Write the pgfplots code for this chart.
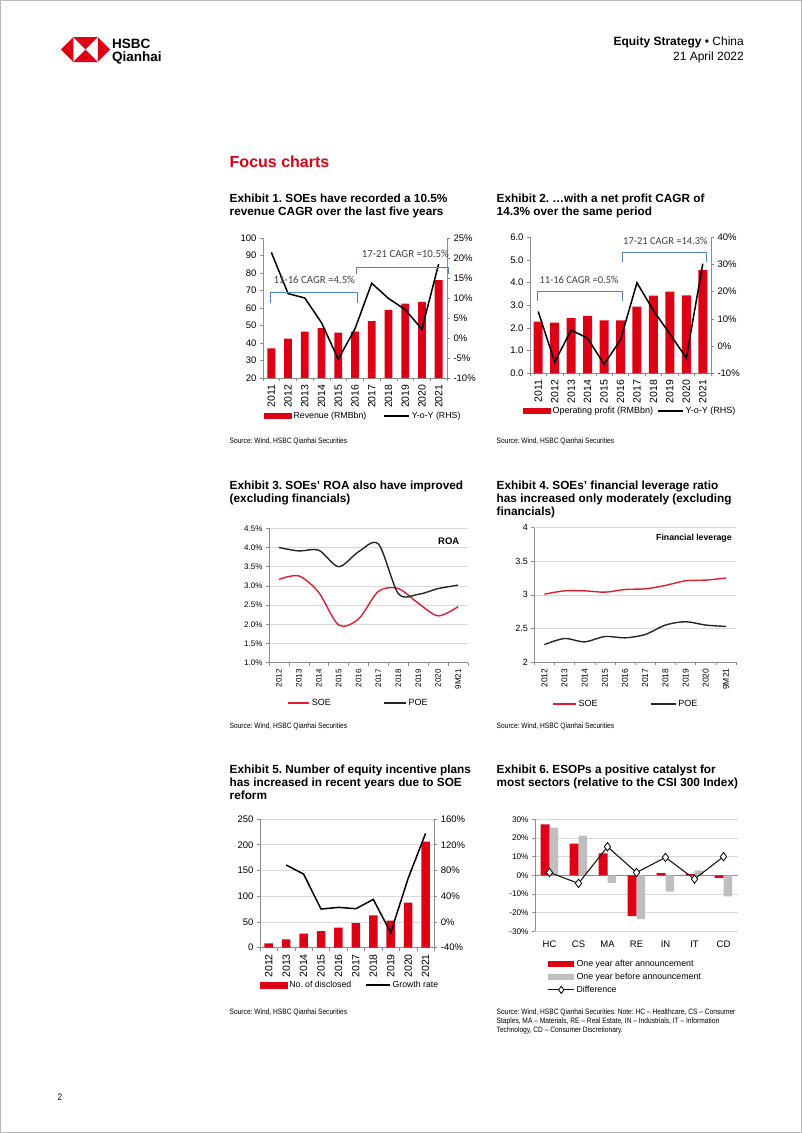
\documentclass[border=0pt]{standalone}
\usepackage{fontspec}
\usepackage{pgfplots}
\pgfplotsset{compat=1.18}
\setmainfont{Liberation Sans}
\newfontfamily\narrowfont[FakeStretch=0.85]{Liberation Sans}
\newfontfamily\calfont{Carlito}
\frenchspacing
\definecolor{barred}{RGB}{222,0,20}
\definecolor{linered}{RGB}{226,30,48}
\definecolor{lgray}{RGB}{191,191,191}
\definecolor{gridc}{RGB}{217,217,217}
\definecolor{axc}{RGB}{140,140,140}
\definecolor{brblue}{RGB}{84,130,190}
\definecolor{txt}{RGB}{64,64,64}
\newcommand{\fs}[2]{\fontsize{#1}{#2}\selectfont}
\pgfkeys{/pgf/number format/assume math mode=true}
\pgfplotsset{
  hbase/.style={scale only axis, anchor=south west,
    axis line style={axc, line width=0.6pt, -},
    tick style={axc, line width=0.6pt},
    tick align=outside, major tick length=3pt, minor tick length=3pt,
    grid style={gridc, line width=0.6pt},
    legend cell align=left},
}
\begin{document}
\begin{tikzpicture}
\path[use as bounding box] (0,0) rectangle (802pt,-1133pt);
\fill[white] (0,0) rectangle (802pt,-1133pt);
\draw[gray!55, line width=0.8pt] (0.4pt,-0.4pt) rectangle (801.6pt,-1132.6pt);

% ================= Chart 1 =================
\begin{axis}[hbase, at={(263pt,-378pt)}, width=184pt, height=140pt,
  xmin=-0.5, xmax=10.5, ymin=20, ymax=100, ytick={20,30,...,100},
  xtick={0,...,10}, xticklabels={2011,2012,2013,2014,2015,2016,2017,2018,2019,2020,2021},
  major x tick style={draw=none}, minor xtick={-0.5,0.5,...,10.5},
  axis x line*=bottom, axis y line*=left,
  xticklabel style={rotate=90, anchor=east, font=\fs{10.5}{12}},
  yticklabel style={font=\fs{9.5}{11}}]
\addplot[ybar, bar width=7.8pt, fill=barred, draw=none] coordinates {
 (0,37) (1,42.5) (2,46.5) (3,48.5) (4,46) (5,46.5) (6,52.5) (7,59) (8,62.5) (9,63.5) (10,76)};
\end{axis}
\begin{axis}[hbase, at={(263pt,-378pt)}, width=184pt, height=140pt,
  xmin=-0.5, xmax=10.5, ymin=-10, ymax=25, ytick={-10,-5,...,25},
  yticklabel={\pgfmathprintnumber{\tick}\%},
  axis y line*=right, axis x line=none, xtick=\empty,
  yticklabel style={font=\fs{9.5}{11}},
  legend style={at={(0.005,-0.271)}, anchor=west, draw=none, fill=none, inner sep=0pt,
    font=\fs{8.8}{10}, legend columns=2, /tikz/every even column/.append style={column sep=15pt}}]
\addlegendimage{legend image code/.code={\fill[barred] (0pt,-2.6pt) rectangle (27pt,2.6pt);}}
\addlegendentry{Revenue (RMBbn)}
\addplot[black, line width=1.5pt, legend image code/.code={\draw[black,line width=1.5pt] (0pt,0pt) -- (25pt,0pt);}] coordinates {
 (0,21.4) (1,11.1) (2,10.0) (3,3.8) (4,-5.3) (5,2.3) (6,13.7) (7,9.9) (8,7.1) (9,2.2) (10,18.5)};
\addlegendentry{Y-o-Y (RHS)}
\end{axis}

% ================= Chart 2 =================
\begin{axis}[hbase, at={(530pt,-373.3pt)}, width=181pt, height=136pt,
  xmin=-0.5, xmax=10.5, ymin=0, ymax=6, ytick={0,1,...,6},
  yticklabel={\pgfmathprintnumber[fixed,fixed zerofill,precision=1]{\tick}},
  xtick={0,...,10}, xticklabels={2011,2012,2013,2014,2015,2016,2017,2018,2019,2020,2021},
  major x tick style={draw=none}, minor xtick={-0.5,0.5,...,10.5},
  axis x line*=bottom, axis y line*=left,
  xticklabel style={rotate=90, anchor=east, font=\fs{10.5}{12}},
  yticklabel style={font=\fs{9.5}{11}}]
\addplot[ybar, bar width=9pt, fill=barred, draw=none] coordinates {
 (0,2.28) (1,2.24) (2,2.43) (3,2.53) (4,2.34) (5,2.34) (6,2.94) (7,3.43) (8,3.60) (9,3.44) (10,4.56)};
\end{axis}
\begin{axis}[hbase, at={(530pt,-373.3pt)}, width=181pt, height=136pt,
  xmin=-0.5, xmax=10.5, ymin=-10, ymax=40, ytick={-10,0,...,40},
  yticklabel={\pgfmathprintnumber{\tick}\%},
  axis y line*=right, axis x line=none, xtick=\empty,
  yticklabel style={font=\fs{9.5}{11}},
  legend style={at={(-0.039,-0.277)}, anchor=west, draw=none, fill=none, inner sep=0pt,
    font=\fs{9}{10}, legend columns=2, /tikz/every even column/.append style={column sep=2pt}}]
\addlegendimage{legend image code/.code={\fill[barred] (0pt,-2.6pt) rectangle (27pt,2.6pt);}}
\addlegendentry{Operating profit (RMBbn)}
\addplot[black, line width=1.5pt, legend image code/.code={\draw[black,line width=1.5pt] (0pt,0pt) -- (25pt,0pt);}] coordinates {
 (0,12.7) (1,-5.9) (2,5.9) (3,2.9) (4,-6.7) (5,2.3) (6,23.3) (7,13.1) (8,4.5) (9,-4.4) (10,30.3)};
\addlegendentry{Y-o-Y (RHS)}
\end{axis}

% ================= Chart 3 =================
\begin{axis}[hbase, at={(269pt,-662.7pt)}, width=199pt, height=134.4pt,
  xmin=-0.5, xmax=9.5, ymin=1, ymax=4.5, ytick={1,1.5,2,2.5,3,3.5,4,4.5},
  yticklabel={\pgfmathprintnumber[fixed,fixed zerofill,precision=1]{\tick}\%},
  ymajorgrids,
  xtick={0,...,9}, xticklabels={2012,2013,2014,2015,2016,2017,2018,2019,2020,9M21},
  major x tick style={draw=none}, minor xtick={-0.5,0.5,...,9.5},
  axis x line*=bottom, axis y line*=left,
  xticklabel style={rotate=90, anchor=east, font=\fs{8}{9}},
  yticklabel style={font=\fs{8}{9}},
  legend style={at={(0.09,-0.302)}, anchor=west, draw=none, fill=none, inner sep=0pt,
    font=\fs{9}{10}, legend columns=2, /tikz/every even column/.append style={column sep=50pt}}]
\addlegendimage{legend image code/.code={\draw[linered,line width=1.8pt] (0pt,0pt) -- (21pt,0pt);}}
\addlegendentry{SOE}
\addlegendimage{legend image code/.code={\draw[black!85,line width=1.8pt] (0pt,0pt) -- (22pt,0pt);}}
\addlegendentry{POE}
\addplot[linered, line width=1.4pt, smooth, forget plot] coordinates {
 (0,3.17) (1,3.26) (2,2.83) (3,1.98) (4,2.14) (5,2.86) (6,2.93) (7,2.55) (8,2.22) (9,2.46)};
\addplot[black!85, line width=1.4pt, smooth, forget plot] coordinates {
 (0,4.00) (1,3.91) (2,3.93) (3,3.50) (4,3.89) (5,4.09) (6,2.80) (7,2.78) (8,2.93) (9,3.02)};
\end{axis}

% ================= Chart 4 =================
\begin{axis}[hbase, at={(534.3pt,-662pt)}, width=201.7pt, height=134.3pt,
  xmin=-0.5, xmax=9.5, ymin=2, ymax=4, ytick={2,2.5,3,3.5,4},
  ymajorgrids,
  xtick={0,...,9}, xticklabels={2012,2013,2014,2015,2016,2017,2018,2019,2020,9M21},
  major x tick style={draw=none}, minor xtick={-0.5,0.5,...,9.5},
  axis x line*=bottom, axis y line*=left,
  xticklabel style={rotate=90, anchor=east, font=\fs{8.5}{9.5}},
  yticklabel style={font=\fs{9}{10}},
  legend style={at={(0.086,-0.31)}, anchor=west, draw=none, fill=none, inner sep=0pt,
    font=\fs{9}{10}, legend columns=2, /tikz/every even column/.append style={column sep=50pt}}]
\addlegendimage{legend image code/.code={\draw[linered,line width=1.8pt] (0pt,0pt) -- (23pt,0pt);}}
\addlegendentry{SOE}
\addlegendimage{legend image code/.code={\draw[black!85,line width=1.8pt] (0pt,0pt) -- (25pt,0pt);}}
\addlegendentry{POE}
\addplot[linered, line width=1.4pt, smooth, forget plot] coordinates {
 (0,3.01) (1,3.06) (2,3.06) (3,3.04) (4,3.08) (5,3.09) (6,3.14) (7,3.21) (8,3.22) (9,3.25)};
\addplot[black!85, line width=1.4pt, smooth, forget plot] coordinates {
 (0,2.26) (1,2.35) (2,2.30) (3,2.38) (4,2.36) (5,2.41) (6,2.55) (7,2.60) (8,2.55) (9,2.53)};
\end{axis}

% ================= Chart 5 =================
\begin{axis}[hbase, at={(260pt,-947.7pt)}, width=174.3pt, height=128.7pt,
  xmin=-0.5, xmax=9.5, ymin=0, ymax=250, ytick={0,50,...,250},
  ymajorgrids,
  xtick={0,...,9}, xticklabels={2012,2013,2014,2015,2016,2017,2018,2019,2020,2021},
  major x tick style={draw=none}, minor xtick={-0.5,0.5,...,9.5},
  axis x line*=bottom, axis y line*=left,
  xticklabel style={rotate=90, anchor=east, font=\fs{10.5}{12}},
  yticklabel style={font=\fs{9.5}{11}}]
\addplot[ybar, bar width=8.5pt, fill=barred, draw=none] coordinates {
 (0,8.4) (1,16.2) (2,27.2) (3,32.4) (4,38.9) (5,47.9) (6,62.8) (7,52.5) (8,87.4) (9,206)};
\end{axis}
\begin{axis}[hbase, at={(260pt,-947.7pt)}, width=174.3pt, height=128.7pt,
  xmin=-0.5, xmax=9.5, ymin=-40, ymax=160, ytick={-40,0,...,160},
  yticklabel={\pgfmathprintnumber{\tick}\%},
  axis y line*=right, axis x line=none, xtick=\empty,
  yticklabel style={font=\fs{9.5}{11}},
  legend style={at={(0,-0.29)}, anchor=west, draw=none, fill=none, inner sep=0pt,
    font=\fs{8.7}{10}, legend columns=2, /tikz/every even column/.append style={column sep=12pt}}]
\addlegendimage{legend image code/.code={\fill[barred] (0pt,-2.7pt) rectangle (26.7pt,2.7pt);}}
\addlegendentry{No.\ of disclosed}
\addplot[black, line width=1.5pt, legend image code/.code={\draw[black,line width=1.5pt] (0pt,0pt) -- (24pt,0pt);}] coordinates {
 (1,88.5) (2,74.5) (3,20.1) (4,22.7) (5,20.6) (6,35.1) (7,-16.7) (8,67.8) (9,137.7)};
\addlegendentry{Growth rate}
\end{axis}

% ================= Chart 6 =================
\begin{axis}[hbase, at={(535pt,-931.3pt)}, width=203pt, height=112pt,
  xmin=-0.5, xmax=6.5, ymin=-30, ymax=30, ytick={-30,-20,...,30},
  yticklabel={\pgfmathprintnumber{\tick}\%},
  ymajorgrids,
  extra y ticks={0}, extra y tick labels={},
  extra y tick style={grid=major, major grid style={axc, line width=0.8pt}, major tick length=0pt},
  xtick={0,...,6}, xticklabels={HC,CS,MA,RE,IN,IT,CD},
  major x tick style={draw=none},
  axis x line*=bottom, x axis line style={draw=none}, axis y line*=left,
  xticklabel style={font=\fs{9.5}{11}, yshift=-3pt},
  yticklabel style={font=\fs{8.2}{9.5}},
  legend style={at={(0.0626,-0.238)}, anchor=north west, draw=none, fill=none, inner sep=0pt,
    font=\fs{8.8}{10}, legend columns=1, row sep=1pt}]
\addplot[ybar, bar width=9pt, bar shift=-4.5pt, fill=barred, draw=none,
  legend image code/.code={\fill[barred] (0pt,-2.7pt) rectangle (25.6pt,2.7pt);}] coordinates {
 (0,27.3) (1,17.0) (2,11.7) (3,-21.9) (4,1.2) (5,0.7) (6,-1.4)};
\addlegendentry{One year after announcement}
\addplot[ybar, bar width=8.5pt, bar shift=4.25pt, fill=lgray, draw=none,
  legend image code/.code={\fill[lgray] (0pt,-2.7pt) rectangle (25.6pt,2.7pt);}] coordinates {
 (0,25.6) (1,21.2) (2,-4.0) (3,-23.5) (4,-8.8) (5,2.6) (6,-11.3)};
\addlegendentry{One year before announcement}
\addplot[black!90, line width=1.1pt, mark=diamond*, mark size=4.2pt, mark options={fill=white, draw=black, line width=0.8pt},
  legend image code/.code={\draw[black!90, line width=1.1pt, mark=diamond*, mark size=3.6pt, mark options={fill=white, draw=black, line width=0.8pt}, mark repeat=2, mark phase=2] plot coordinates {(0pt,0pt) (12.8pt,0pt) (25.6pt,0pt)};}] coordinates {
 (0,1.5) (1,-4.3) (2,15.3) (3,1.5) (4,9.6) (5,-2.0) (6,10.0)};
\addlegendentry{Difference}
\end{axis}

% ================= Text and annotations =================
\begin{scope}[x=1pt,y=-1pt]
% logo
\fill[barred] (61,49.5) -- (73.25,37) -- (73.25,62) -- cycle;
\fill[barred] (110,49.5) -- (97.75,37) -- (97.75,62) -- cycle;
\fill[barred] (73.25,37) -- (97.75,37) -- (85.5,49.5) -- cycle;
\fill[barred] (73.25,62) -- (97.75,62) -- (85.5,49.5) -- cycle;
\node[anchor=base west, inner sep=0pt, font=\bfseries\fs{13.5}{14}] at (112,48) {HSBC};
\node[anchor=base west, inner sep=0pt, font=\bfseries\fs{13.5}{14}] at (112,61.5) {Qianhai};
\node[anchor=base east, inner sep=0pt, font=\fs{12}{13}] at (744,45) {\textbf{Equity Strategy} \textbullet\ China};
\node[anchor=base east, inner sep=0pt, font=\fs{12}{13}] at (744,60) {21 April 2022};
\node[anchor=base west, inner sep=0pt, text=barred, font=\bfseries\fs{16}{18}] at (229.5,167) {Focus charts};

% titles
\begin{scope}[every node/.style={anchor=base west, inner sep=0pt, font=\bfseries\fs{11.8}{13}}]
\node at (229.5,202.5) {Exhibit 1. SOEs have recorded a 10.5\%};
\node at (229.5,215.5) {revenue CAGR over the last five years};
\node at (496.5,202.5) {Exhibit 2. …with a net profit CAGR of};
\node at (496.5,215.5) {14.3\% over the same period};
\node at (229.5,489) {Exhibit 3. SOEs’ ROA also have improved};
\node at (229.5,502) {(excluding financials)};
\node at (496.5,489) {Exhibit 4. SOEs’ financial leverage ratio};
\node at (496.5,502) {has increased only moderately (excluding};
\node at (496.5,515) {financials)};
\node at (229.5,773) {Exhibit 5. Number of equity incentive plans};
\node at (229.5,786) {has increased in recent years due to SOE};
\node at (229.5,799) {reform};
\node at (496.5,773) {Exhibit 6. ESOPs a positive catalyst for};
\node at (496.5,786) {most sectors (relative to the CSI 300 Index)};
\end{scope}

% sources
\begin{scope}[every node/.style={anchor=base west, inner sep=0pt, font=\narrowfont\fs{7.8}{9}}]
\node at (229.5,443) {Source: Wind, HSBC Qianhai Securities};
\node at (496.5,443) {Source: Wind, HSBC Qianhai Securities};
\node at (229.5,728) {Source: Wind, HSBC Qianhai Securities};
\node at (496.5,728) {Source: Wind, HSBC Qianhai Securities};
\node at (229.5,1014) {Source: Wind, HSBC Qianhai Securities};
\node at (496.5,1014) {Source: Wind, HSBC Qianhai Securities. Note: HC – Healthcare, CS – Consumer};
\node at (496.5,1023.3) {Staples, MA – Materials, RE – Real Estate, IN – Industrials, IT – Information};
\node at (496.5,1032.5) {Technology, CD – Consumer Discretionary.};
\end{scope}

% chart-internal labels
\node[anchor=base west, inner sep=0pt, font=\bfseries\fs{9.5}{11}] at (438,544) {ROA};
\node[anchor=base west, inner sep=0pt, font=\bfseries\fs{8.7}{10}] at (656,540) {Financial leverage};

% CAGR brackets
\draw[brblue, line width=0.9pt] (270.7,302.7) -- (270.7,292.7) -- (357.7,292.7) -- (357.7,302.7);
\draw[brblue, line width=0.9pt] (356.7,274) -- (356.7,267.3) -- (448.3,267.3) -- (448.3,274);
\node[anchor=base west, inner sep=0pt, text=txt, font=\calfont\fs{10.8}{12}] at (273.3,283.5) {11-16 CAGR =4.5\%};
\node[anchor=base west, inner sep=0pt, text=txt, font=\calfont\fs{10.8}{12}] at (361.7,257) {17-21 CAGR =10.5\%};
\draw[brblue, line width=0.9pt] (537.7,300.7) -- (537.7,291.7) -- (622.3,291.7) -- (622.3,300.7);
\draw[brblue, line width=0.9pt] (622.3,261.7) -- (622.3,252.7) -- (706.7,252.7) -- (706.7,261.7);
\node[anchor=base west, inner sep=0pt, text=txt, font=\calfont\fs{10.5}{12}] at (539.3,283) {11-16 CAGR =0.5\%};
\node[anchor=base west, inner sep=0pt, text=txt, font=\calfont\fs{10.5}{12}] at (623,244) {17-21 CAGR =14.3\%};

% page number
\node[anchor=base west, inner sep=0pt, font=\narrowfont\fs{9.5}{11}] at (57.5,1100.7) {2};
\end{scope}
\end{tikzpicture}
\end{document}
